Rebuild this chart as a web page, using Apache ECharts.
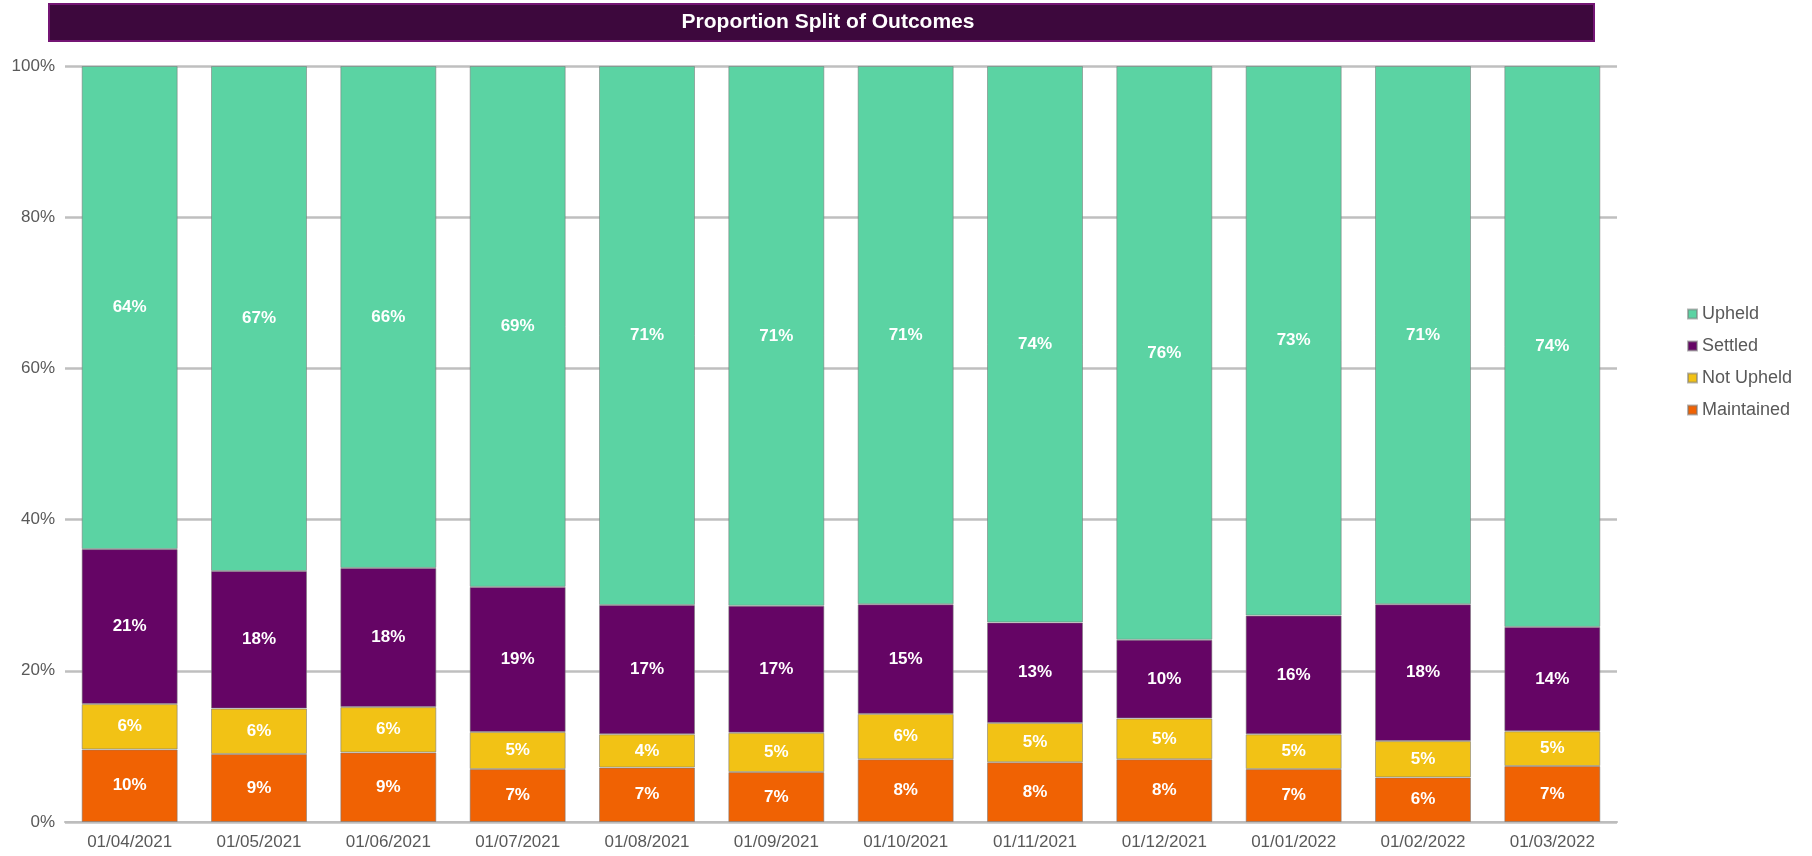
<!DOCTYPE html>
<html>
<head>
<meta charset="utf-8">
<title>Proportion Split of Outcomes</title>
<script src="https://cdn.jsdelivr.net/npm/echarts@6/dist/echarts.min.js"></script>
<style>
  html, body { margin: 0; padding: 0; background: #ffffff; }
  #chart { width: 1812px; height: 856px; }
</style>
</head>
<body>
<div id="chart"></div>
<script>
// Month start dates (category axis)
const months = ['01/04/2021', '01/05/2021', '01/06/2021', '01/07/2021', '01/08/2021', '01/09/2021',
                '01/10/2021', '01/11/2021', '01/12/2021', '01/01/2022', '01/02/2022', '01/03/2022'];

// Share of outcomes per month, in percent (each month sums to 100)
const maintained = [9.6, 9.0, 9.2, 7.0, 7.2, 6.6, 8.3, 7.9, 8.3, 7.0, 5.9, 7.4];
const notUpheld  = [6.0, 6.0, 6.0, 4.9, 4.4, 5.2, 6.0, 5.2, 5.4, 4.6, 4.8, 4.6];
const settled    = [20.5, 18.2, 18.4, 19.2, 17.1, 16.8, 14.5, 13.3, 10.4, 15.7, 18.1, 13.8];
const upheld     = [63.9, 66.8, 66.4, 68.9, 71.3, 71.4, 71.2, 73.6, 75.9, 72.7, 71.2, 74.2];

// Value axis ticks
const yTicks = [0, 20, 40, 60, 80, 100];

const FONT = '"Liberation Sans", Arial, sans-serif';
const TEXT_GREY = '#595959';

const chart = echarts.init(document.getElementById('chart'), null, { renderer: 'canvas' });

function segment(name, data, color) {
  return {
    name: name,
    type: 'bar',
    stack: 'share',
    barWidth: 96,
    data: data,
    itemStyle: { color: color, borderColor: 'rgba(120,120,120,0.55)', borderWidth: 1 },
    label: {
      show: true,
      position: 'inside',
      color: '#ffffff',
      fontFamily: FONT,
      fontWeight: 'bold',
      fontSize: 17,
      formatter: p => Math.round(p.value) + '%'
    },
    emphasis: { disabled: true }
  };
}

chart.setOption({
  animation: false,
  backgroundColor: '#ffffff',
  graphic: [
    {
      type: 'rect',
      left: 48, top: 3,
      shape: { width: 1545, height: 37 },
      style: { fill: '#3d083d', stroke: '#741574', lineWidth: 2 },
      z: 10
    },
    {
      type: 'text',
      x: 828, y: 22,
      style: {
        text: 'Proportion Split of Outcomes',
        fill: '#ffffff',
        font: 'bold 21px ' + FONT,
        textAlign: 'center',
        textVerticalAlign: 'middle'
      },
      z: 11
    }
  ],
  legend: {
    orient: 'vertical',
    left: 1682,
    top: 300,
    itemWidth: 9,
    itemHeight: 9,
    itemGap: 14,
    icon: 'rect',
    data: ['Upheld', 'Settled', 'Not Upheld', 'Maintained'],
    textStyle: { color: TEXT_GREY, fontFamily: FONT, fontSize: 18 }
  },
  grid: { left: 65, right: 195, top: 66, bottom: 34, containLabel: false },
  xAxis: {
    type: 'category',
    data: months,
    axisLine: { show: true, lineStyle: { color: '#bdbdbd', width: 2 } },
    axisTick: { show: false },
    axisLabel: { color: TEXT_GREY, fontFamily: FONT, fontSize: 17, margin: 12 }
  },
  yAxis: {
    type: 'value',
    min: yTicks[0],
    max: yTicks[yTicks.length - 1],
    interval: yTicks[1] - yTicks[0],
    axisLine: { show: false },
    axisTick: { show: false },
    splitLine: { show: true, lineStyle: { color: '#bfbfbf', width: 2.5 } },
    axisLabel: { color: TEXT_GREY, fontFamily: FONT, fontSize: 17, margin: 10, formatter: '{value}%' }
  },
  series: [
    segment('Maintained', maintained, '#f06203'),
    segment('Not Upheld', notUpheld, '#f2c215'),
    segment('Settled', settled, '#650565'),
    segment('Upheld', upheld, '#5bd3a3')
  ]
});
</script>
</body>
</html>
